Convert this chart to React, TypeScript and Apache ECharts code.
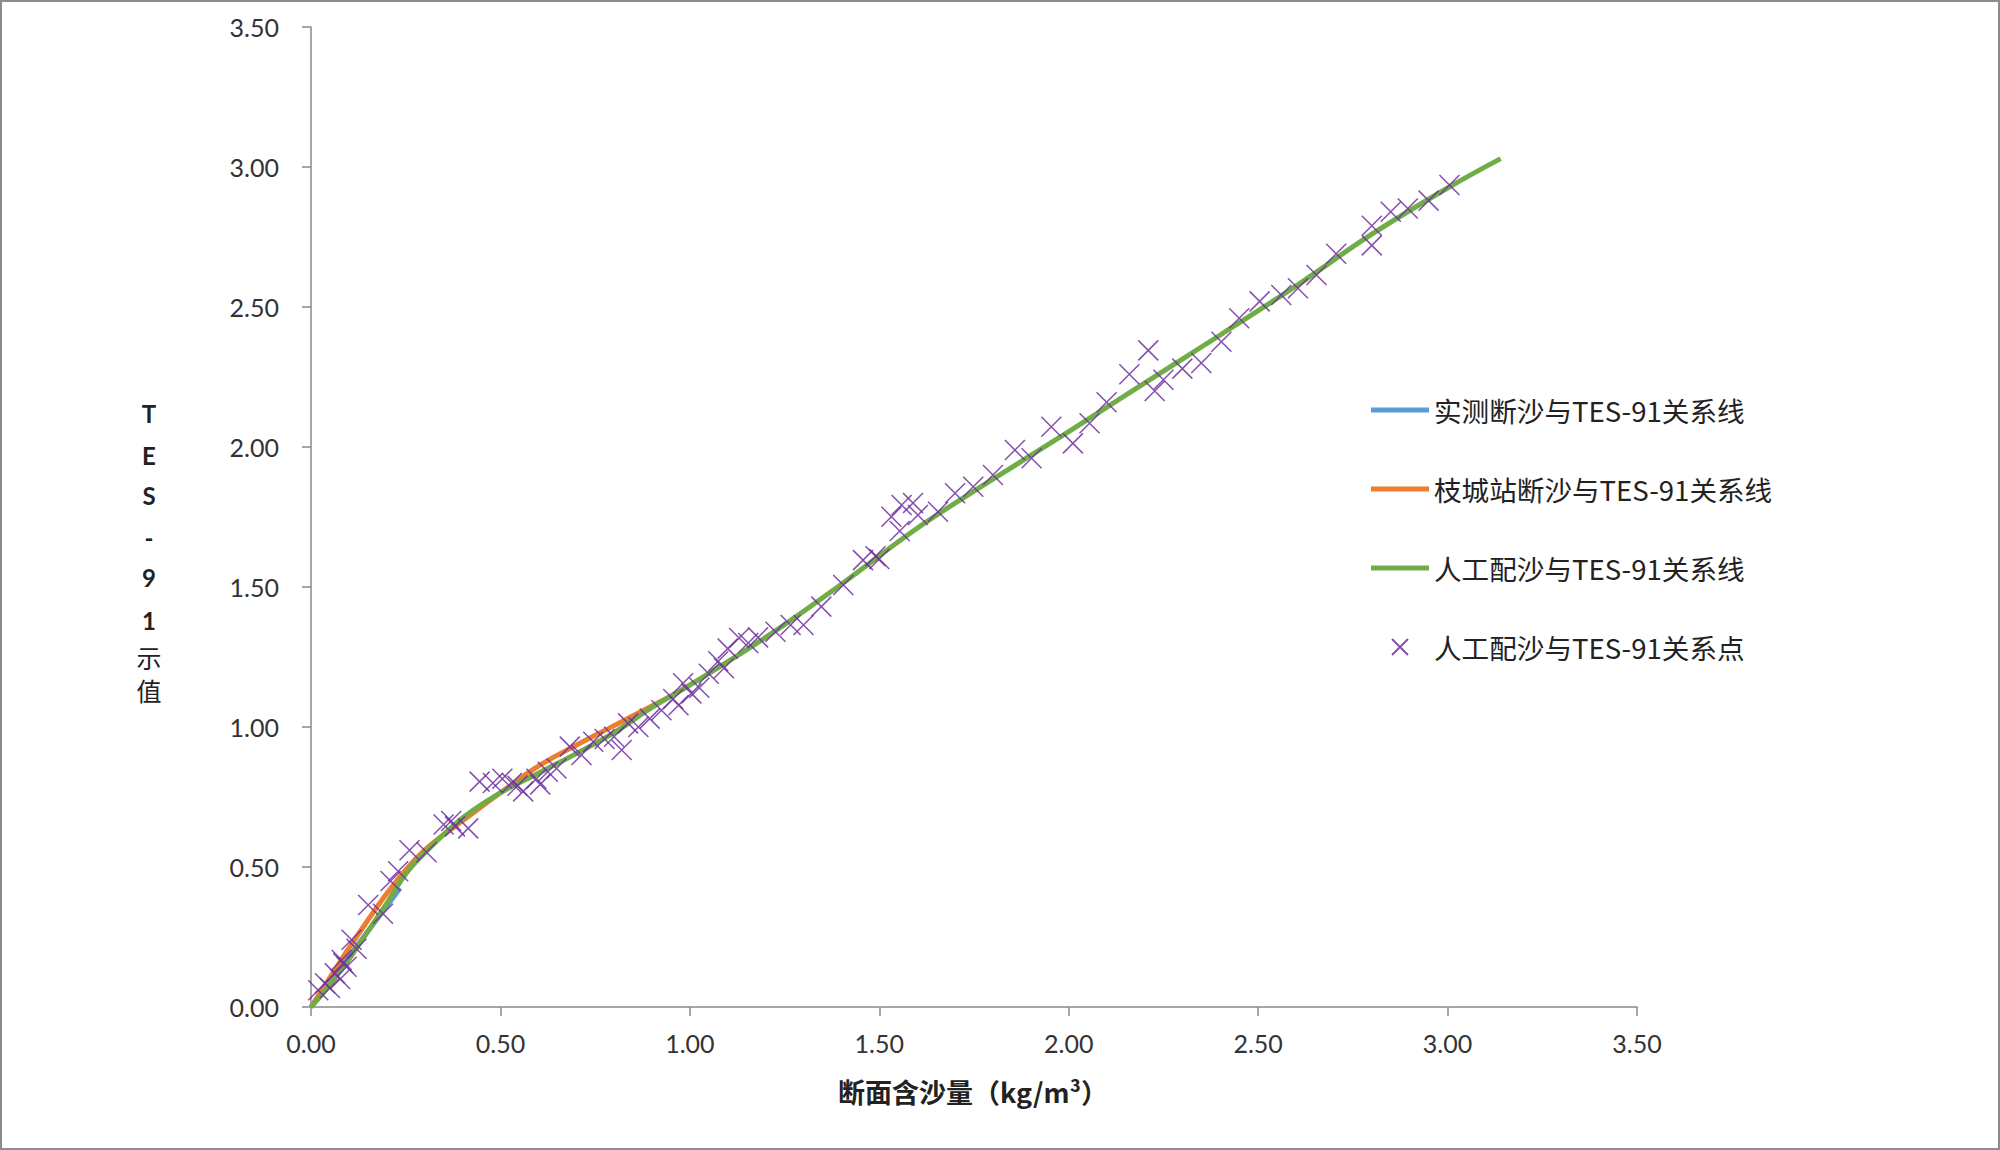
import React, { useEffect, useRef } from "react";
import * as echarts from "echarts";

// ---- data ----
const seriesNames = [
  "实测断沙与TES-91关系线",
  "枝城站断沙与TES-91关系线",
  "人工配沙与TES-91关系线",
  "人工配沙与TES-91关系点",
];

const blueLine: number[][] = [
  [0, 0], [0.05, 0.09], [0.1, 0.18], [0.15, 0.27], [0.2, 0.36], [0.235, 0.425],
];

const orangeLine: number[][] = [
  [0, 0], [0.05, 0.105], [0.1, 0.21], [0.15, 0.31], [0.2, 0.405], [0.25, 0.49],
  [0.3, 0.56], [0.35, 0.615], [0.4, 0.665], [0.5, 0.765], [0.6, 0.86],
  [0.7, 0.935], [0.8, 1.005], [0.9, 1.075], [0.97, 1.125],
];

const greenLine: number[][] = [
  [0, 0], [0.05, 0.08], [0.1, 0.17], [0.15, 0.27], [0.2, 0.37], [0.25, 0.475],
  [0.3, 0.55], [0.4, 0.675], [0.5, 0.765], [0.6, 0.835], [0.7, 0.905],
  [0.8, 0.98], [0.9, 1.07], [1.0, 1.15], [1.2, 1.32], [1.4, 1.51], [1.6, 1.71],
  [1.8, 1.885], [2.0, 2.055], [2.2, 2.228], [2.4, 2.4], [2.6, 2.575],
  [2.8, 2.76], [3.0, 2.925], [3.14, 3.03],
];

const scatterPoints: number[][] = [
  [0.019, 0.06], [0.037, 0.085], [0.05, 0.068], [0.063, 0.12], [0.077, 0.1],
  [0.081, 0.168], [0.094, 0.144], [0.085, 0.156], [0.107, 0.24], [0.12, 0.208],
  [0.151, 0.364], [0.19, 0.333], [0.21, 0.45], [0.23, 0.485], [0.26, 0.56],
  [0.305, 0.553], [0.35, 0.652], [0.37, 0.664], [0.38, 0.645], [0.415, 0.638],
  [0.445, 0.805], [0.48, 0.8], [0.505, 0.815], [0.53, 0.8], [0.545, 0.79],
  [0.56, 0.77], [0.595, 0.815], [0.605, 0.795], [0.625, 0.84], [0.648, 0.852],
  [0.683, 0.93], [0.714, 0.9], [0.745, 0.947], [0.775, 0.957], [0.8, 0.965],
  [0.82, 0.918], [0.837, 1.013], [0.864, 1.0], [0.894, 1.03], [0.925, 1.06],
  [0.956, 1.1], [0.97, 1.078], [0.982, 1.156], [1.004, 1.12], [1.025, 1.14],
  [1.05, 1.19], [1.075, 1.235], [1.1, 1.28], [1.09, 1.21], [1.13, 1.318],
  [1.154, 1.3], [1.18, 1.32], [1.226, 1.34], [1.266, 1.364], [1.3, 1.364],
  [1.347, 1.43], [1.405, 1.507], [1.457, 1.596], [1.49, 1.61], [1.5, 1.6],
  [1.532, 1.751], [1.559, 1.793], [1.589, 1.8], [1.554, 1.7], [1.602, 1.757],
  [1.655, 1.769], [1.7, 1.835], [1.748, 1.858], [1.8, 1.9], [1.858, 1.989],
  [1.902, 1.96], [1.954, 2.072], [2.011, 2.013], [2.055, 2.085], [2.1, 2.16],
  [2.16, 2.26], [2.21, 2.345], [2.227, 2.2], [2.25, 2.24], [2.3, 2.28],
  [2.35, 2.3], [2.403, 2.376], [2.45, 2.46], [2.504, 2.52], [2.561, 2.543],
  [2.605, 2.567], [2.654, 2.614], [2.706, 2.69], [2.8, 2.79], [2.8, 2.72],
  [2.85, 2.84], [2.895, 2.852], [2.95, 2.88], [3.005, 2.936],
];

const axisMin = 0;
const axisMax = 3.5;
const axisStep = 0.5;

const yNameChars = ["T", "E", "S", "-", "9", "1", "示", "值"];
const yNameCharY = [413, 455, 495, 537, 577, 620, 657, 690];
const xAxisTitle = "断面含沙量（kg/m³）";

const COLORS = ["#5B9BD5", "#ED7D31", "#70AD47", "#7030A0"];
const LATIN = "Lato, 'Noto Sans CJK SC', sans-serif";
const CJK = "'Noto Sans CJK SC', Lato, sans-serif";
const LEGEND_LINE_ICON = "path://M0,0H58V5H0Z";

export default function App() {
  const ref = useRef<HTMLDivElement>(null);
  useEffect(() => {
    if (!ref.current) return;
    const chart = echarts.init(ref.current, undefined, { renderer: "svg" });
    const axisCommon = {
      type: "value" as const,
      min: axisMin,
      max: axisMax,
      interval: axisStep,
      axisLine: { show: true, lineStyle: { color: "#898989", width: 1.5 } },
      axisTick: { show: true, inside: false, length: 9, lineStyle: { color: "#898989", width: 1.5 } },
      splitLine: { show: false },
      axisLabel: {
        formatter: (v: number) => v.toFixed(2),
        fontSize: 25,
        color: "#333",
        fontFamily: LATIN,
      },
    };
    const lineSeries = (name: string, data: number[][], color: string) => ({
      name,
      type: "line" as const,
      data,
      smooth: 0.4,
      symbol: "none",
      lineStyle: { color, width: 5 },
      itemStyle: { color },
    });
    chart.setOption({
      animation: false,
      backgroundColor: "#ffffff",
      grid: { left: 311, right: 363, top: 27, bottom: 143, containLabel: false },
      xAxis: { ...axisCommon, axisLabel: { ...axisCommon.axisLabel, margin: 23 } },
      yAxis: { ...axisCommon, axisLabel: { ...axisCommon.axisLabel, margin: 32 } },
      legend: {
        orient: "vertical",
        left: 1366,
        top: 389,
        itemWidth: 58,
        itemHeight: 16,
        itemGap: 47,
        textStyle: { fontSize: 27.6, color: "#222", fontFamily: CJK, lineHeight: 32 },
        data: [
          { name: seriesNames[0], icon: LEGEND_LINE_ICON },
          { name: seriesNames[1], icon: LEGEND_LINE_ICON },
          { name: seriesNames[2], icon: LEGEND_LINE_ICON },
          { name: seriesNames[3] },
        ],
      },
      series: [
        lineSeries(seriesNames[0], blueLine, COLORS[0]),
        lineSeries(seriesNames[1], orangeLine, COLORS[1]),
        lineSeries(seriesNames[2], greenLine, COLORS[2]),
        {
          name: seriesNames[3],
          type: "scatter",
          data: scatterPoints,
          symbol: "path://M0,0L20,20M20,0L0,20",
          symbolSize: 20,
          itemStyle: { color: "none", borderColor: COLORS[3], borderWidth: 1.5, opacity: 0.85 },
          z: 5,
        },
      ],
      graphic: [
        {
          type: "rect",
          shape: { x: 1, y: 1, width: 1998, height: 1148 },
          style: { fill: "none", stroke: "#8c8c8c", lineWidth: 2 },
          silent: true,
        },
        ...yNameChars.map((c, i) => ({
          type: "text",
          x: 149,
          y: yNameCharY[i],
          style: {
            text: c,
            fontSize: i < 6 ? 24 : 25,
            fontWeight: i < 6 ? "bold" : "normal",
            fontFamily: i < 6 ? LATIN : CJK,
            fill: "#222",
            align: "center",
            verticalAlign: "middle",
          },
        })),
        {
          type: "text",
          x: 973,
          y: 1091,
          style: {
            text: xAxisTitle,
            fontSize: 27,
            fontWeight: "bold",
            fontFamily: CJK,
            fill: "#222",
            align: "center",
            verticalAlign: "middle",
          },
        },
      ],
    });
    return () => chart.dispose();
  }, []);
  return (
    <div
      ref={ref}
      style={{ position: "fixed", left: 0, top: 0, width: 2000, height: 1150, background: "#fff" }}
    />
  );
}
